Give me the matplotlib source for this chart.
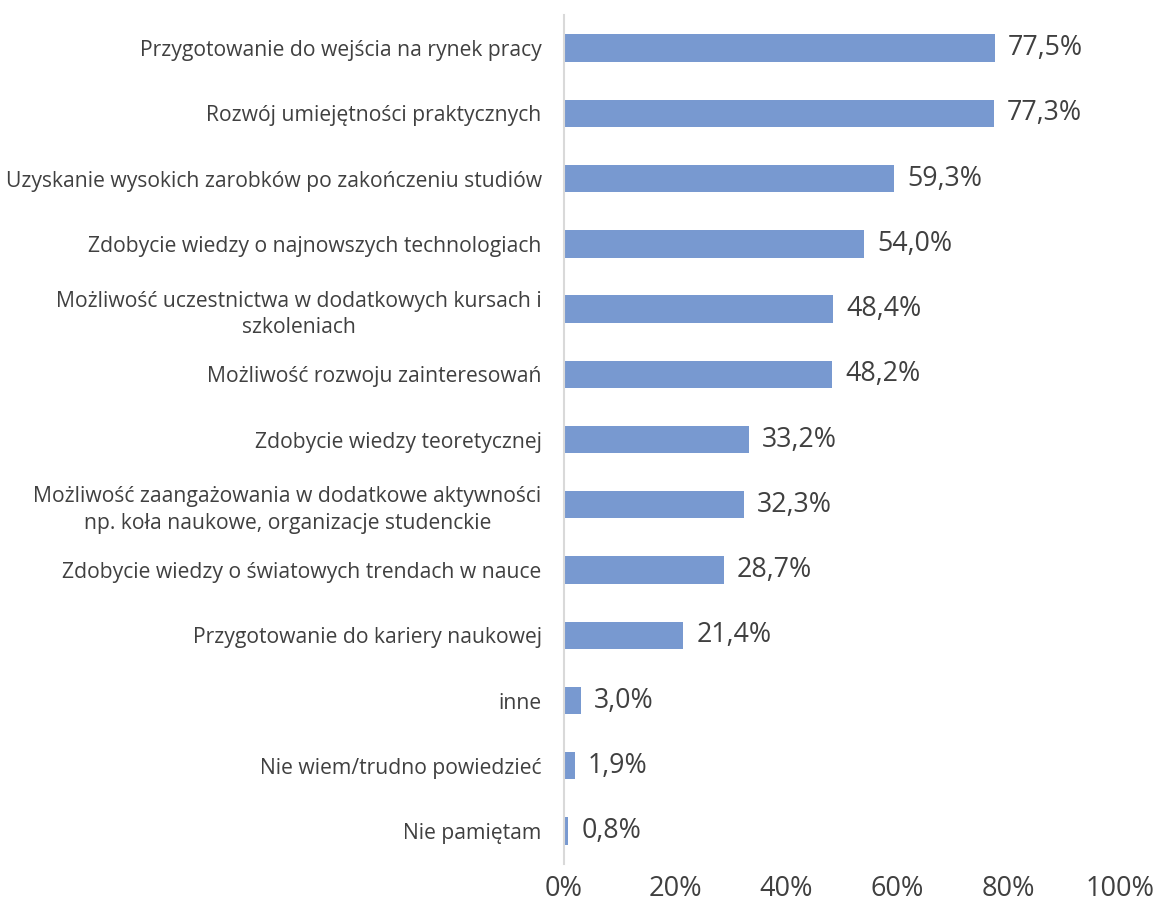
import matplotlib.pyplot as plt
from matplotlib.ticker import FuncFormatter

plt.rcParams['font.family'] = ['Open Sans', 'DejaVu Sans']

categories = [
    "Przygotowanie do wejścia na rynek pracy",
    "Rozwój umiejętności praktycznych",
    "Uzyskanie wysokich zarobków po zakończeniu studiów",
    "Zdobycie wiedzy o najnowszych technologiach",
    "Możliwość uczestnictwa w dodatkowych kursach i\nszkoleniach",
    "Możliwość rozwoju zainteresowań",
    "Zdobycie wiedzy teoretycznej",
    "Możliwość zaangażowania w dodatkowe aktywności\nnp. koła naukowe, organizacje studenckie",
    "Zdobycie wiedzy o światowych trendach w nauce",
    "Przygotowanie do kariery naukowej",
    "inne",
    "Nie wiem/trudno powiedzieć",
    "Nie pamiętam",
]
values = [77.5, 77.3, 59.3, 54.0, 48.4, 48.2, 33.2, 32.3, 28.7, 21.4, 3.0, 1.9, 0.8]
xticks = [0, 20, 40, 60, 80, 100]

text_color = '#404040'
bar_color = '#7899D0'

fig = plt.figure(figsize=(11.54, 9.11), dpi=100)
ax = fig.add_axes([0.4887, 0.052, 0.4818, 0.931])

pos = list(range(len(categories)))
ax.barh(pos, values, height=0.42, color=bar_color)

for y, v in zip(pos, values):
    ax.text(v + 2.4, y, f"{v:.1f}%".replace('.', ','), va='center', ha='left',
            fontsize=19.3, color=text_color)

ax.set_ylim(len(categories) - 0.5, -0.5)
ax.set_xlim(0, 100)
ax.set_yticks(pos)
ax.set_yticklabels(categories, fontsize=15.2, color=text_color, linespacing=1.35)
for lab in ax.get_yticklabels():
    lab.set_multialignment('center')
ax.set_xticks(xticks)
ax.xaxis.set_major_formatter(FuncFormatter(lambda x, p: f"{int(x)}%"))
ax.tick_params(axis='x', labelsize=19.5, colors=text_color, length=0, pad=8)
ax.tick_params(axis='y', length=0, pad=16)

for s in ['top', 'right', 'bottom']:
    ax.spines[s].set_visible(False)
ax.spines['left'].set_color('#d9d9d9')
ax.spines['left'].set_linewidth(1.5)

fig.savefig('out.png', dpi=100)
